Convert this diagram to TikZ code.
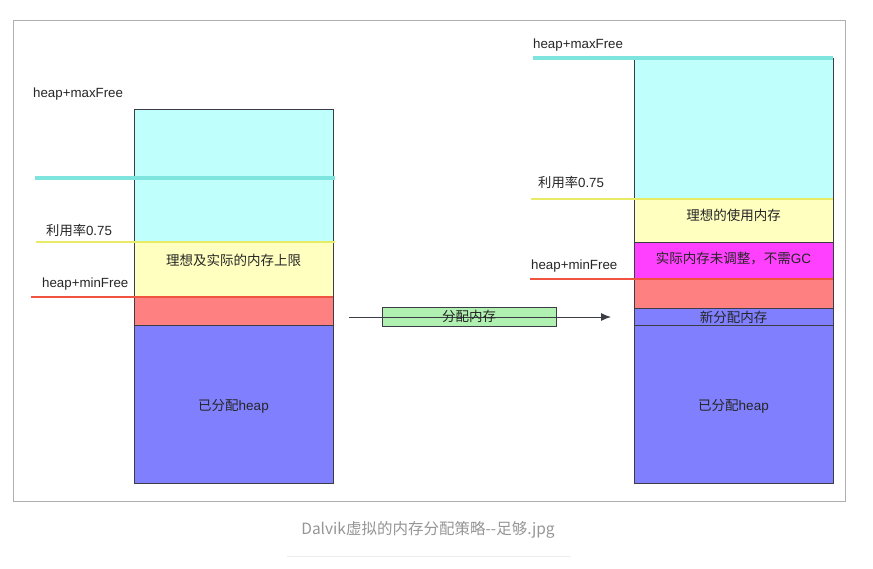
\documentclass[tikz,border=0pt]{standalone}
\usepackage{fontspec}
\setmainfont{Liberation Sans}
\newfontfamily\cjk{Noto Sans CJK SC}
\usetikzlibrary{arrows.meta}
\definecolor{cyanfill}{RGB}{191,255,252}
\definecolor{cyanline}{RGB}{125,228,222}
\definecolor{yelfill}{RGB}{255,255,192}
\definecolor{yelline}{RGB}{232,236,100}
\definecolor{redfill}{RGB}{255,128,128}
\definecolor{redline}{RGB}{240,84,64}
\definecolor{magfill}{RGB}{255,64,255}
\definecolor{bluefill}{RGB}{128,128,255}
\definecolor{greenfill}{RGB}{176,240,176}
\definecolor{edge}{RGB}{60,60,70}
\definecolor{framegray}{RGB}{175,175,175}
\definecolor{capgray}{RGB}{150,150,150}
\tikzset{
  seg/.style={draw=edge, line width=0.9pt},
  lvl/.style={line width=3.6pt},
  lvlthin/.style={line width=2.6pt},
  lab/.style={font=\fontsize{13.3}{14}\selectfont, text=black!85, inner sep=0pt, anchor=west},
  inlab/.style={font=\fontsize{13.5}{14}\selectfont, text=black!85, inner sep=0pt},
}
\begin{document}
\begin{tikzpicture}[x=1pt,y=-1pt]
\useasboundingbox (0,0) rectangle (873,568);
\fill[white] (0,0) rectangle (873,568);
% frame
\draw[framegray, line width=1pt] (13,20) rectangle (845,501);
% left column
\path[seg, fill=cyanfill] (134,109) rectangle (333,242);
\path[seg, fill=yelfill] (134,242) rectangle (333,297);
\path[seg, fill=redfill] (134,297) rectangle (333,325);
\path[seg, fill=bluefill] (134,325) rectangle (333,483);
\draw[lvl, cyanline] (35,178) -- (335,178);
\draw[lvlthin, yelline] (36,242) -- (335,242);
\draw[lvlthin, redline] (31,297) -- (333,297);
\node[lab] (lmax) at (33,94) {heap+maxFree};
\node[lab] (luse) at (46,230) {{\cjk 利用率}0.75};
\node[lab] (lmin) at (42,284) {heap+minFree};
\node[inlab] (lyel) at (233.5,260) {\cjk 理想及实际的内存上限};
\node[inlab] (lblue) at (233.5,406) {{\cjk 已分配}heap};
% right column
\path[seg, fill=cyanfill] (634,58) rectangle (833,199);
\path[seg, fill=yelfill] (634,199) rectangle (833,242);
\path[seg, fill=magfill] (634,242) rectangle (833,279);
\path[seg, fill=redfill] (634,279) rectangle (833,308);
\path[seg, fill=bluefill] (634,308) rectangle (833,325);
\path[seg, fill=bluefill] (634,325) rectangle (833,483);
\draw[lvl, cyanline] (533,58) -- (833,58);
\draw[lvlthin, yelline] (531,199) -- (833,199);
\draw[lvlthin, redline] (530,279) -- (833,279);
\node[lab] (rmax) at (533,45) {heap+maxFree};
\node[lab] (ruse) at (538,182) {{\cjk 利用率}0.75};
\node[lab] (rmin) at (531,266) {heap+minFree};
\node[inlab] (ryel) at (733.5,215) {\cjk 理想的使用内存};
\node[inlab] (rmag) at (733.5,259) {{\cjk 实际内存未调整，不需}GC};
\node[inlab] (rnew) at (733.5,317) {\cjk 新分配内存};
\node[inlab] (rblue) at (733.5,406) {{\cjk 已分配}heap};
% arrow
\node[draw=edge, fill=greenfill, line width=0.9pt, minimum width=174pt, minimum height=19pt, inner sep=0pt] (alloc) at (469,316.5) {};
\coordinate (astart) at (349,317);
\coordinate (aend) at (611,317);
\draw[edge, line width=1pt, -{Latex[length=10pt,width=8pt]}] (astart) -- (aend);
\node[inlab] (alloclab) at (alloc.center) {\cjk 分配内存};
% caption
\node[font=\fontsize{15.5}{16}\selectfont\cjk, text=capgray, inner sep=0pt] (cap) at (428,530) {Dalvik虚拟的内存分配策略-{}-足够.jpg};
\draw[black!7, line width=1pt] (287,556) -- (571,556);
\end{tikzpicture}
\end{document}
